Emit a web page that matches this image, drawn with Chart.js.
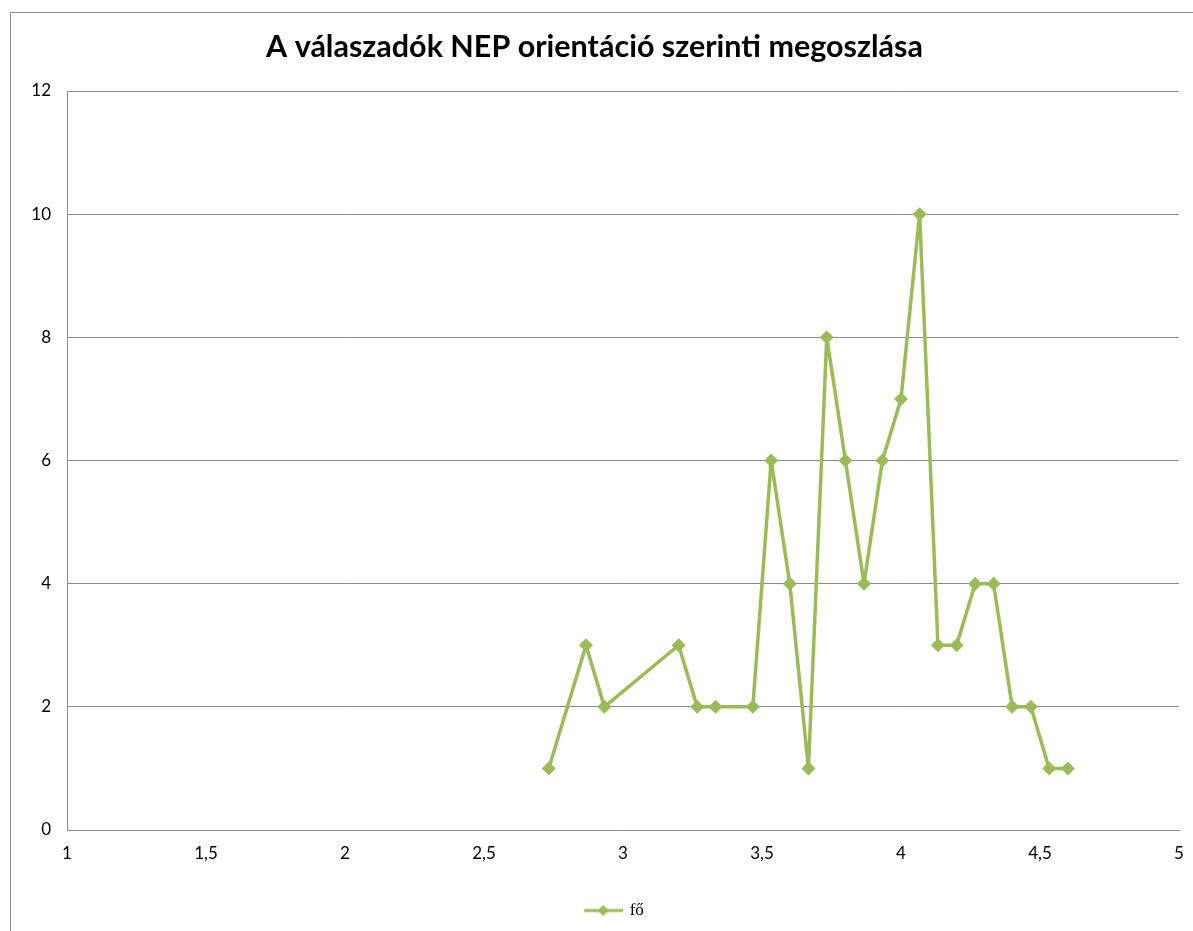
<!DOCTYPE html>
<html>
<head>
<meta charset="utf-8">
<script src="https://cdn.jsdelivr.net/npm/chart.js@4.4.1/dist/chart.umd.min.js"></script>
<style>
  html, body { margin: 0; padding: 0; background: #fff; }
  #wrap { width: 1193px; height: 931px; position: relative; }
</style>
</head>
<body>
<div id="wrap"><canvas id="chart" width="1193" height="931"></canvas></div>
<script>
// NEP orientation score (x) and number of respondents (y)
var scores = [2.733, 2.867, 2.933, 3.2, 3.267, 3.333, 3.467, 3.533, 3.6, 3.667, 3.733, 3.8,
  3.867, 3.933, 4.0, 4.067, 4.133, 4.2, 4.267, 4.333, 4.4, 4.467, 4.533, 4.6];
var counts = [1, 3, 2, 3, 2, 2, 2, 6, 4, 1, 8, 6, 4, 6, 7, 10, 3, 3, 4, 4, 2, 2, 1, 1];
var seriesLabel = 'fő';
var titleText = 'A válaszadók NEP orientáció szerinti megoszlása';

var green = '#9BBB59';
var gridGray = '#8a8a8a';

var points = scores.map(function (s, i) { return { x: s, y: counts[i] }; });

// legend swatch: line with a diamond, drawn in the right half of the image
function legendSwatch() {
  var c = document.createElement('canvas');
  c.width = 80; c.height = 14;
  var g = c.getContext('2d');
  g.strokeStyle = green; g.lineWidth = 3;
  g.beginPath(); g.moveTo(41, 7); g.lineTo(80, 7); g.stroke();
  g.fillStyle = green;
  g.beginPath(); g.moveTo(60, 1.5); g.lineTo(65.5, 7); g.lineTo(60, 12.5); g.lineTo(54.5, 7); g.closePath(); g.fill();
  return c;
}

var frame = {
  id: 'frame',
  beforeDraw: function (chart) {
    var ctx = chart.ctx;
    ctx.save();
    ctx.strokeStyle = '#8c8c8c';
    ctx.lineWidth = 1;
    ctx.strokeRect(10.5, 12.5, 1300, 1000);
    ctx.restore();
  }
};

var swatch = legendSwatch();

new Chart(document.getElementById('chart').getContext('2d'), {
  type: 'line',
  data: {
    datasets: [{
      label: seriesLabel,
      data: points,
      borderColor: green,
      backgroundColor: green,
      borderWidth: 3.5,
      borderJoinStyle: 'round',
      pointStyle: 'rectRot',
      pointRadius: 7,
      pointBorderWidth: 0,
      pointBackgroundColor: green,
      tension: 0,
      fill: false
    }]
  },
  options: {
    responsive: false, animation: false,
    layout: { padding: { left: 0, right: 4, top: 0, bottom: 2 } },
    plugins: {
      title: {
        display: true, text: titleText, color: '#000',
        font: { family: 'Lato', size: 30.5, weight: 'bold' },
        padding: { top: 29, bottom: 25.4 }
      },
      legend: {
        position: 'bottom',
        labels: {
          usePointStyle: true, pointStyleWidth: 76, color: '#000',
          font: { family: 'Liberation Serif', size: 17 },
          generateLabels: function (chart) {
            var items = Chart.defaults.plugins.legend.labels.generateLabels(chart);
            items.forEach(function (it) { it.pointStyle = swatch; });
            return items;
          }
        }
      },
      tooltip: { enabled: false }
    },
    scales: {
      x: {
        type: 'linear', min: 1, max: 5,
        grid: { display: false, drawTicks: false },
        border: { display: true, color: gridGray, width: 1 },
        ticks: {
          stepSize: 0.5, color: '#000', padding: 13,
          font: { family: 'Lato', size: 17 }, maxRotation: 0,
          callback: function (v) { return String(v).replace('.', ','); }
        },
        afterFit: function (s) { s.height = 62; s.paddingRight = 14; s.paddingLeft = 0; }
      },
      y: {
        min: 0, max: 12,
        grid: { color: gridGray, drawTicks: false },
        border: { display: true, color: gridGray, width: 1 },
        ticks: {
          stepSize: 2, color: '#000', padding: 16,
          font: { family: 'Lato', size: 17 }
        },
        afterFit: function (s) { s.width = 67; }
      }
    }
  },
  plugins: [frame]
});
</script>
</body>
</html>
